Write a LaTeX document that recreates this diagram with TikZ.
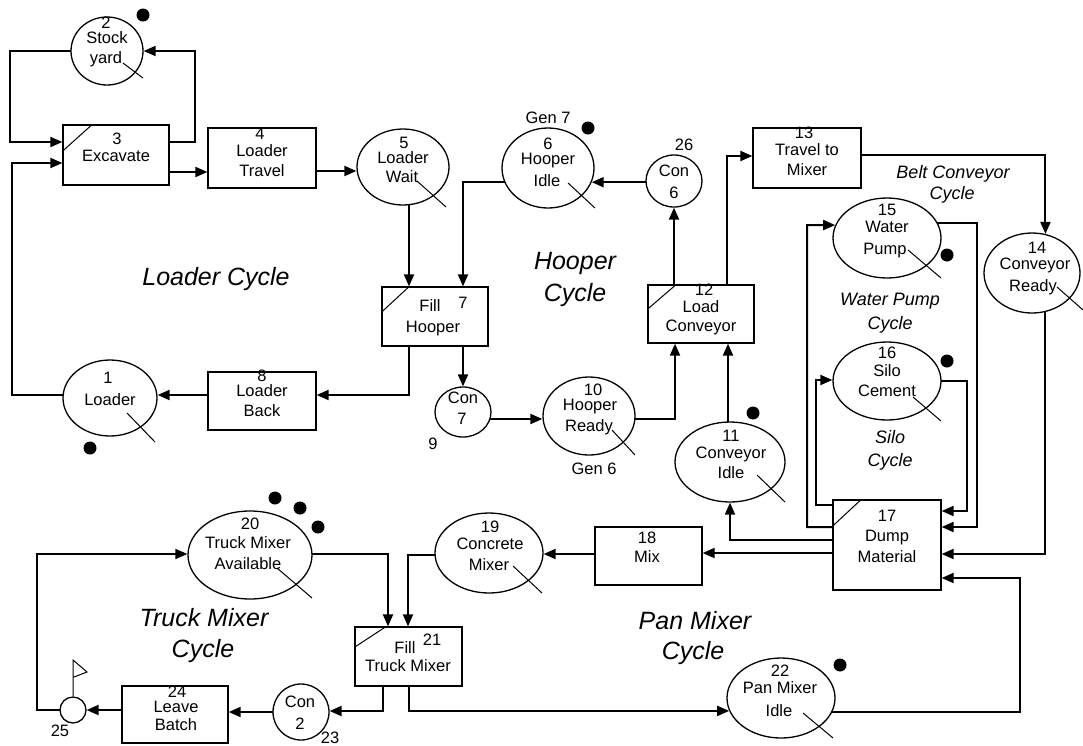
\documentclass[tikz,border=0pt]{standalone}
\usepackage{fontspec}
\setmainfont{Liberation Sans}
\usetikzlibrary{shapes.geometric,arrows.meta}
\pgfdeclarelayer{bg}
\pgfsetlayers{bg,main}
\begin{document}
\begin{tikzpicture}[x=1pt,y=-1pt,
  box/.style={draw, line width=1.3pt, fill=white, inner sep=0pt},
  que/.style={ellipse, draw, line width=1.3pt, fill=white, inner sep=0pt},
  txt/.style={font=\fontsize{16.5}{19}\selectfont, inner sep=0pt, text height=12pt, text depth=0pt},
  cyc/.style={font=\fontsize{25}{30}\selectfont\itshape, inner sep=0pt, text height=18pt, text depth=0pt},
  scyc/.style={font=\fontsize{18}{22}\selectfont\itshape, inner sep=0pt, text height=13pt, text depth=0pt},
  conn/.style={line width=2pt, -{Triangle[length=12pt,width=10pt]}},
  tokline/.style={line width=1pt},
  tok/.style={circle, fill=black, inner sep=0pt, minimum size=13pt}]
\useasboundingbox (0,0) rectangle (1083,745);

% ---------- nodes ----------
\node[que, minimum width=72pt, minimum height=68pt] (n2) at (107,51) {};
\node[box, minimum width=106pt, minimum height=60pt] (n3) at (116,155) {};
\node[box, minimum width=108pt, minimum height=60pt] (n4) at (262,158) {};
\node[que, minimum width=92pt, minimum height=76pt] (n5) at (403,167) {};
\node[que, minimum width=92pt, minimum height=80pt] (n6) at (548,168) {};
\node[que, minimum width=56pt, minimum height=52pt] (n26) at (674,181) {};
\node[box, minimum width=106pt, minimum height=59pt] (n7) at (435,316.5) {};
\node[box, minimum width=108pt, minimum height=58pt] (n8) at (262,401) {};
\node[que, minimum width=94pt, minimum height=76pt] (n1) at (110,398) {};
\node[que, minimum width=56pt, minimum height=50pt] (n9) at (463,412) {};
\node[que, minimum width=92pt, minimum height=78pt] (n10) at (589,416) {};
\node[box, minimum width=106pt, minimum height=58pt] (n12) at (701,314) {};
\node[box, minimum width=108pt, minimum height=60pt] (n13) at (807,158) {};
\node[que, minimum width=96pt, minimum height=80pt] (n14) at (1032,273) {};
\node[que, minimum width=108pt, minimum height=80pt] (n15) at (887,238) {};
\node[que, minimum width=108pt, minimum height=78pt] (n16) at (887,381) {};
\node[que, minimum width=110pt, minimum height=80pt] (n11) at (730,462) {};
\node[box, minimum width=108pt, minimum height=90pt] (n17) at (887,545) {};
\node[box, minimum width=107pt, minimum height=58pt] (n18) at (648.5,556) {};
\node[que, minimum width=108pt, minimum height=80pt] (n19) at (489,553) {};
\node[que, minimum width=124pt, minimum height=88pt] (n20) at (250,555) {};
\node[box, minimum width=107pt, minimum height=59pt] (n21) at (408.5,656.5) {};
\node[que, minimum width=108pt, minimum height=80pt] (n22) at (781,698) {};
\node[que, minimum width=56pt, minimum height=56pt] (n23) at (301,712) {};
\node[box, minimum width=106pt, minimum height=57pt] (n24) at (175,714.5) {};
\node[circle, draw, line width=1.3pt, fill=white, inner sep=0pt, minimum size=26pt] (n25) at (73,710) {};

% ---------- connectors ----------
\begin{pgfonlayer}{bg}
\draw[conn] (n2.center) -| (10,142) -- (n3.west |- 0,142);
\draw[conn] (n3.center |- 0,142) -| (195,51) -- (n2.east);
\draw[conn] (n1.center |- 0,395) -| (12,163) -- (n3.west |- 0,163);
\draw[conn] (n3.center |- 0,172) -- (n4.west |- 0,172);
\draw[conn] (n4.center |- 0,171) -- (n5.west |- 0,171);
\draw[conn] (n5.center -| 409,0) -- (n7.north -| 409,0);
\draw[conn] (n6.center |- 0,182) -| (n7.north -| 463,0);
\draw[conn] (n7.center -| 409,0) |- (n8.east |- 0,395);
\draw[conn] (n8.center |- 0,395) -- (n1.east |- 0,395);
\draw[conn] (n7.center -| n9.north) -- (n9.north);
\draw[conn] (n9.center |- 0,419) -- (n10.west |- 0,419);
\draw[conn] (n10.center |- 0,419) -| (n12.south -| 675,0);
\draw[conn] (n12.center -| n26.south) -- (n26.south);
\draw[conn] (n26.center |- n6.-18) -- (n6.-18);
\draw[conn] (n12.center -| 727,0) |- (n13.west |- 0,156);
\draw[conn] (n13.center |- 0,155) -| (n14.71);
\draw[conn] (n14.center -| 1045,0) |- (n17.east |- 0,554);
\draw[conn] (n11.center -| 728,0) -- (n12.south -| 728,0);
\draw[conn] (n17.center |- 0,540) -| (n11.south);
\draw[conn] (n17.center |- 0,553) -- (n18.east |- 0,553);
\draw[conn] (n18.center |- 0,554) -- (n19.east |- 0,554);
\draw[conn] (n19.center |- 0,555) -| (n21.north -| 408,0);
\draw[conn] (n20.center |- 0,554) -| (n21.north -| 388,0);
\draw[conn] (n21.center -| 383,0) |- (n23.east |- 0,711);
\draw[conn] (n21.center -| 409,0) |- (n22.194);
\draw[conn] (n22.center |- 0,712) -| (1020,578) -- (n17.east |- 0,578);
\draw[conn] (n23.center |- 0,712) -- (n24.east |- 0,712);
\draw[conn] (n24.center |- 0,710) -- (n25.east);
\draw[conn] (n25.center) -| (37,554) -- (n20.west |- 0,554);
\draw[conn] (n17.center |- 0,527) -| (807,225) -- (n15.166);
\draw[conn] (n17.center |- 0,505) -| (816,380) -- (n16.west |- 0,380);
\draw[conn] (n16.center |- 0,381) -| (967,511) -- (n17.east |- 0,511);
\draw[conn] (n15.center |- 0,223) -| (977,527) -- (n17.east |- 0,527);
\end{pgfonlayer}

% ---------- combi slashes ----------
\draw[tokline] ([yshift=-27pt]n3.north west) -- ([xshift=30pt]n3.north west);
\draw[tokline] ([yshift=-26pt]n7.north west) -- ([xshift=28pt]n7.north west);
\draw[tokline] ([yshift=-25pt]n12.north west) -- ([xshift=29pt]n12.north west);
\draw[tokline] ([yshift=-27pt]n17.north west) -- ([xshift=29pt]n17.north west);
\draw[tokline] ([yshift=-21pt]n21.north west) -- ([xshift=32pt]n21.north west);

% ---------- resource marks ----------
\draw[tokline] (123,63) -- (143,78);
\draw[tokline] (417,181) -- (446,207);
\draw[tokline] (568,183) -- (595,208);
\draw[tokline] (127,413) -- (155,442);
\draw[tokline] (612,430) -- (635,455);
\draw[tokline] (908,250) -- (941,278);
\draw[tokline] (913,397) -- (941,421);
\draw[tokline] (1057,287) -- (1083,310);
\draw[tokline] (757,475) -- (785,502);
\draw[tokline] (513,566) -- (542,593);
\draw[tokline] (277,568) -- (312,598);
\draw[tokline] (803,713) -- (833,738);

\node[tok] (d2) at (143,15) {};
\node[tok] (d6) at (588,128) {};
\node[tok] (d1) at (90,448) {};
\node[tok] (d15) at (947,255) {};
\node[tok] (d16) at (947,361) {};
\node[tok] (d11) at (753,413) {};
\node[tok] (d20a) at (275,498) {};
\node[tok] (d20b) at (300,508) {};
\node[tok] (d20c) at (318,527) {};
\node[tok] (d22) at (840,665) {};

% flag
\draw[tokline] (n25.north) -- (73,660) -- (87,672) -- (74,677);

% ---------- texts ----------
\node[txt] (t2a) at (106,22) {2};
\node[txt] (t2b) at (107,37) {Stock};
\node[txt] (t2c) at (106,57) {yard};
\node[txt] (t3a) at (117,138) {3};
\node[txt] (t3b) at (116,155) {Excavate};
\node[txt] (t4a) at (260,133) {4};
\node[txt] (t4b) at (262,150) {Loader};
\node[txt] (t4c) at (262,170) {Travel};
\node[txt] (t5a) at (404,142) {5};
\node[txt] (t5b) at (403,157) {Loader};
\node[txt] (t5c) at (402,176) {Wait};
\node[txt] (t6g) at (548,117) {Gen 7};
\node[txt] (t6a) at (548,143) {6};
\node[txt] (t6b) at (548,158) {Hooper};
\node[txt] (t6c) at (547,180) {Idle};
\node[txt] (t26a) at (684,144) {26};
\node[txt] (t26b) at (674,170) {Con};
\node[txt] (t26c) at (674,192) {6};
\node[txt] (t7a) at (430,305) {Fill};
\node[txt] (t7b) at (463,302) {7};
\node[txt] (t7c) at (433,326) {Hooper};
\node[txt] (t8a) at (262,375) {8};
\node[txt] (t8b) at (262,390) {Loader};
\node[txt] (t8c) at (262,410) {Back};
\node[txt] (t1a) at (108,377) {1};
\node[txt] (t1b) at (110,399) {Loader};
\node[txt] (t9a) at (463,397) {Con};
\node[txt] (t9b) at (462,418) {7};
\node[txt] (t9c) at (433,443) {9};
\node[txt] (t10a) at (593,389) {10};
\node[txt] (t10b) at (590,404) {Hooper};
\node[txt] (t10c) at (589,425) {Ready};
\node[txt] (t10g) at (594,468) {Gen 6};
\node[txt] (t12a) at (704,289) {12};
\node[txt] (t12b) at (701,306) {Load};
\node[txt] (t12c) at (701,325) {Conveyor};
\node[txt] (t13a) at (804,132) {13};
\node[txt] (t13b) at (807,149) {Travel to};
\node[txt] (t13c) at (807,169) {Mixer};
\node[txt] (t14a) at (1037,247) {14};
\node[txt] (t14b) at (1035,263) {Conveyor};
\node[txt] (t14c) at (1033,285) {Ready};
\node[txt] (t15a) at (887,209) {15};
\node[txt] (t15b) at (887,226) {Water};
\node[txt] (t15c) at (885,248) {Pump};
\node[txt] (t16a) at (887,352) {16};
\node[txt] (t16b) at (887,370) {Silo};
\node[txt] (t16c) at (887,390) {Cement};
\node[txt] (t11a) at (731,435) {11};
\node[txt] (t11b) at (731,452) {Conveyor};
\node[txt] (t11c) at (731,472) {Idle};
\node[txt] (t17a) at (887,515) {17};
\node[txt] (t17b) at (887,535) {Dump};
\node[txt] (t17c) at (887,556) {Material};
\node[txt] (t18a) at (647,537) {18};
\node[txt] (t18b) at (647,556) {Mix};
\node[txt] (t19a) at (490,526) {19};
\node[txt] (t19b) at (490,543) {Concrete};
\node[txt] (t19c) at (489,564) {Mixer};
\node[txt] (t20a) at (250,523) {20};
\node[txt] (t20b) at (248,542) {Truck Mixer};
\node[txt] (t20c) at (248,563) {Available};
\node[txt] (t21a) at (405,647) {Fill};
\node[txt] (t21b) at (432,639) {21};
\node[txt] (t21c) at (408,665) {Truck Mixer};
\node[txt] (t22a) at (780,670) {22};
\node[txt] (t22b) at (780,687) {Pan Mixer};
\node[txt] (t22c) at (779,710) {Idle};
\node[txt] (t23a) at (300,701) {Con};
\node[txt] (t23b) at (300,723) {2};
\node[txt] (t23c) at (330,737) {23};
\node[txt] (t24a) at (177,691) {24};
\node[txt] (t24b) at (176,706) {Leave};
\node[txt] (t24c) at (176,724) {Batch};
\node[txt] (t25) at (60,730) {25};

% ---------- cycle labels ----------
\node[cyc] (c1) at (216,276) {Loader Cycle};
\node[cyc] (c2a) at (575,260) {Hooper};
\node[cyc] (c2b) at (575,292) {Cycle};
\node[scyc] (c3a) at (953,172) {Belt Conveyor};
\node[scyc] (c3b) at (952,193) {Cycle};
\node[scyc] (c4a) at (890,299) {Water Pump};
\node[scyc] (c4b) at (890,323) {Cycle};
\node[scyc] (c5a) at (890,437) {Silo};
\node[scyc] (c5b) at (890,460) {Cycle};
\node[cyc] (c6a) at (204,617) {Truck Mixer};
\node[cyc] (c6b) at (203,648) {Cycle};
\node[cyc] (c7a) at (695,620) {Pan Mixer};
\node[cyc] (c7b) at (693,650) {Cycle};
\end{tikzpicture}
\end{document}
